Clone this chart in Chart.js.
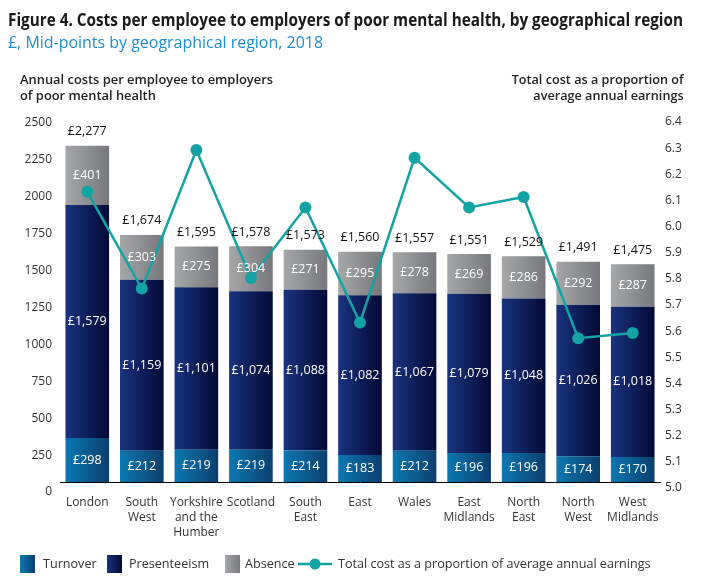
<!DOCTYPE html>
<html>
<head>
<meta charset="utf-8">
<script src="https://cdn.jsdelivr.net/npm/chart.js@4/dist/chart.umd.min.js"></script>
<style>
  html, body { margin: 0; padding: 0; background: #fff; }
  #wrap { position: relative; width: 709px; height: 583px; overflow: hidden; font-family: "Open Sans", sans-serif; }
  #c { position: absolute; left: 0; top: 0; }
  .t { position: absolute; white-space: nowrap; transform-origin: 0 0; }
  #title { left: 8px; top: 8px; font-weight: 700; font-size: 17px; color: #1a1a1a; }
  #subtitle { left: 8px; top: 31px; font-size: 16px; color: #1b8fd0; font-weight: 400; }
  .axt { font-size: 13px; color: #222; line-height: 16px; font-weight: 600; }
  #ylt { left: 20px; top: 71px; }
  #yrt { right: 25px; top: 71px; text-align: right; transform-origin: 100% 0; }
  #legend { position: absolute; top: 554px; left: 0; height: 20px; font-size: 12.6px; color: #333; }
  .li { position: absolute; top: 0; height: 20px; line-height: 20px; white-space: nowrap; }
  .sw { position: absolute; top: 1px; width: 15px; height: 18px; }
</style>
</head>
<body>
<div id="wrap">
  <canvas id="c" width="709" height="583"></canvas>
  <div id="title" class="t">Figure 4. Costs per employee to employers of poor mental health, by geographical region</div>
  <div id="subtitle" class="t">£, Mid-points by geographical region, 2018</div>
  <div id="ylt" class="t axt">Annual costs per employee to employers<br>of poor mental health</div>
  <div id="yrt" class="t axt">Total cost as a proportion of<br>average annual earnings</div>
  <div id="legend">
    <div class="sw" style="left:20px;background:linear-gradient(90deg,#0b78b2,#0b3f6e);"></div>
    <div class="li" style="left:43px;">Turnover</div>
    <div class="sw" style="left:107px;background:linear-gradient(90deg,#1a3380,#020a35);"></div>
    <div class="li" style="left:129px;">Presenteeism</div>
    <div class="sw" style="left:225px;background:linear-gradient(90deg,#a5a7a9,#76787b);"></div>
    <div class="li" style="left:245px;">Absence</div>
    <svg style="position:absolute;left:297px;top:3px;" width="36" height="14"><line x1="1" y1="7" x2="35" y2="7" stroke="#13a3a5" stroke-width="2.5"/><circle cx="18" cy="7" r="5.5" fill="#13a3a5"/></svg>
    <div class="li" style="left:338px;">Total cost as a proportion of average annual earnings</div>
  </div>
</div>
<script>
const categories = [
  ["London"], ["South", "West"], ["Yorkshire", "and the", "Humber"], ["Scotland"],
  ["South", "East"], ["East"], ["Wales"], ["East", "Midlands"], ["North", "East"],
  ["North", "West"], ["West", "Midlands"]
];
const turnover     = [298, 212, 219, 219, 214, 183, 212, 196, 196, 174, 170];
const presenteeism = [1579, 1159, 1101, 1074, 1088, 1082, 1067, 1079, 1048, 1026, 1018];
const absence      = [401, 303, 275, 304, 271, 295, 278, 269, 286, 292, 287];
const totals       = [2277, 1674, 1595, 1578, 1573, 1560, 1557, 1551, 1529, 1491, 1475];
const proportion   = [6.11, 5.74, 6.27, 5.78, 6.05, 5.61, 6.24, 6.05, 6.09, 5.55, 5.57];
const leftTicks  = [0, 250, 500, 750, 1000, 1250, 1500, 1750, 2000, 2250, 2500];
const rightTicks = [5.0, 5.1, 5.2, 5.3, 5.4, 5.5, 5.6, 5.7, 5.8, 5.9, 6.0, 6.1, 6.2, 6.3, 6.4];

function fit(id, w) {
  const el = document.getElementById(id);
  const r = el.getBoundingClientRect().width;
  el.style.transform = 'scaleX(' + (w / r) + ')';
}
fit('title', 675);
fit('subtitle', 315);
fit('ylt', 253);
fit('yrt', 172);

function gradFor(c1, c2) {
  return function (ctx) {
    const chart = ctx.chart;
    const xs = chart.scales && chart.scales.x;
    const area = chart.chartArea;
    if (!xs || !area || ctx.dataIndex === undefined) return c2;
    const cx = xs.getPixelForValue(ctx.dataIndex);
    const w = (area.width / categories.length) * 0.8;
    const g = chart.ctx.createLinearGradient(cx - w / 2, 0, cx + w / 2, 0);
    g.addColorStop(0, c1);
    g.addColorStop(1, c2);
    return g;
  };
}

const fmt = v => '£' + v.toLocaleString('en-GB');

const labelPlugin = {
  id: 'labels',
  afterDatasetsDraw(chart) {
    const ctx = chart.ctx;
    ctx.save();
    ctx.font = '12.5px "Open Sans", sans-serif';
    ctx.textAlign = 'center';
    ctx.textBaseline = 'middle';
    [0, 1, 2].forEach(di => {
      const meta = chart.getDatasetMeta(di);
      const data = chart.data.datasets[di].data;
      meta.data.forEach((bar, i) => {
        const yc = (bar.y + bar.base) / 2;
        ctx.fillStyle = '#ffffff';
        ctx.fillText(fmt(data[i]), bar.x, yc);
      });
    });
    const top = chart.getDatasetMeta(2);
    top.data.forEach((bar, i) => {
      ctx.fillStyle = '#111';
      ctx.fillText(fmt(totals[i]), bar.x, bar.y - 14);
    });
    ctx.restore();
  }
};

new Chart(document.getElementById('c'), {
  data: {
    labels: categories,
    datasets: [
      { type: 'bar', label: 'Turnover', data: turnover, backgroundColor: gradFor('#0b78b2', '#0b3f6e'), stack: 's', yAxisID: 'y', order: 2 },
      { type: 'bar', label: 'Presenteeism', data: presenteeism, backgroundColor: gradFor('#1a3380', '#020a35'), stack: 's', yAxisID: 'y', order: 2 },
      { type: 'bar', label: 'Absence', data: absence, backgroundColor: gradFor('#a5a7a9', '#76787b'), stack: 's', yAxisID: 'y', order: 2 },
      { type: 'line', label: 'Total cost as a proportion of average annual earnings', data: proportion, yAxisID: 'y1',
        borderColor: '#13a3a5', backgroundColor: '#13a3a5', borderWidth: 2.5, pointRadius: 6, pointHoverRadius: 6,
        pointBackgroundColor: '#13a3a5', pointBorderWidth: 0, tension: 0, order: 1 }
    ]
  },
  options: {
    responsive: false,
    animation: false,
    events: [],
    layout: { padding: { top: 113, bottom: 41, left: 0, right: 0 } },
    datasets: { bar: { categoryPercentage: 1, barPercentage: 0.8 } },
    plugins: { legend: { display: false }, tooltip: { enabled: false } },
    scales: {
      x: {
        stacked: true,
        grid: { display: false, drawTicks: false },
        border: { display: true, color: '#000', width: 1 },
        ticks: { color: '#333', font: { family: 'Open Sans', size: 12, lineHeight: 1.25 }, padding: 13, maxRotation: 0, autoSkip: false },
        afterFit(s) { s.height = 60; }
      },
      y: {
        stacked: true, min: 0, max: 2500,
        grid: { display: false, drawTicks: false },
        border: { display: false },
        afterBuildTicks(s) { s.ticks = leftTicks.map(v => ({ value: v })); },
        ticks: { color: '#333', font: { family: 'Open Sans', size: 12 }, padding: 8, labelOffset: 10, callback: v => String(v) },
        afterFit(s) { s.width = 60; }
      },
      y1: {
        position: 'right', min: 5.0, max: 6.4115,
        grid: { display: false, drawTicks: false },
        border: { display: false },
        afterBuildTicks(s) { s.ticks = rightTicks.map(v => ({ value: v })); },
        ticks: { color: '#333', font: { family: 'Open Sans', size: 12 }, padding: 5, labelOffset: 6, callback: v => Number(v).toFixed(1) },
        afterFit(s) { s.width = 49; }
      }
    }
  },
  plugins: [labelPlugin]
});
</script>
</body>
</html>
